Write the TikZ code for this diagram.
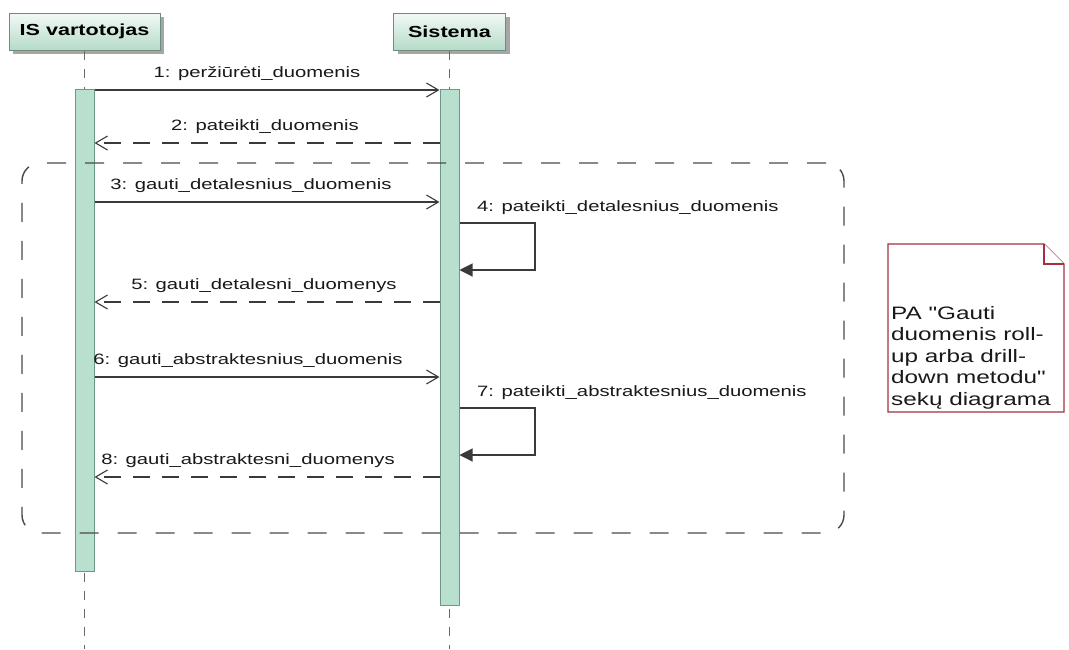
\documentclass[tikz,border=0pt]{standalone}
\usepackage{fontspec}
\newfontfamily\uifont[FakeStretch=1.35]{Liberation Sans}
\usetikzlibrary{arrows.meta,shadows}

\definecolor{actorline}{HTML}{6E8C7E}
\definecolor{actortop}{HTML}{F2F9F5}
\definecolor{actorbot}{HTML}{B6DBC9}
\definecolor{barfill}{HTML}{B9E0CF}
\definecolor{barline}{HTML}{6A9A85}
\definecolor{msgline}{HTML}{3A3A3A}
\definecolor{lifegray}{HTML}{6A6A6A}
\definecolor{framegray}{HTML}{4A4A4A}
\definecolor{notered}{HTML}{A3303F}

\tikzset{
  actor/.style={draw=actorline, line width=1pt, top color=actortop, bottom color=actorbot,
    minimum height=37pt, inner sep=0pt,
    font=\uifont\bfseries\fontsize{16}{19}\selectfont,
    drop shadow={shadow xshift=4pt, shadow yshift=-4pt, fill=black!35, opacity=1}},
  lifeline/.style={draw=lifegray, line width=1pt, dash pattern=on 9pt off 9pt},
  actbar/.style={draw=barline, fill=barfill, line width=1pt, minimum width=19pt, inner sep=0pt, anchor=north},
  callmsg/.style={draw=msgline, line width=1.1pt, -{Straight Barb[length=12pt,width=14pt,line width=1.1pt]}},
  retmsg/.style={callmsg, dash pattern=on 17pt off 12pt},
  selfmsg/.style={draw=msgline, line width=1.1pt, -{Triangle[length=13pt,width=13pt]}},
  lbl/.style={inner sep=0pt, text height=11pt, text depth=3pt,
    font=\uifont\fontsize{15}{18}\selectfont, text=black!90},
  loopframe/.style={draw=framegray, line width=1.4pt, dash pattern=on 19pt off 19pt,
    rounded corners=18pt, inner sep=0pt},
  notebox/.style={draw=notered, line width=1.2pt, fill=white, line join=miter},
  notetext/.style={inner sep=0pt, align=left, text=black!90,
    font=\uifont\fontsize{18}{21.5}\selectfont}
}

\begin{document}
\begin{tikzpicture}[x=1pt,y=-1pt]
\useasboundingbox[fill=white] (0,0) rectangle (1069,649);

% participants
\node[actor, minimum width=151pt] (user) at (84.5,31.5) {IS vartotojas};
\node[actor, minimum width=112pt] (sys) at (449.5,31.5) {Sistema};

% lifelines
\coordinate (userEnd) at (84.5,649);
\coordinate (sysEnd) at (449.5,649);
\draw[lifeline] (user.south) -- (userEnd);
\draw[lifeline] (sys.south) -- (sysEnd);

% activation bars
\node[actbar, minimum height=482pt] (ubar) at (84.5,89) {};
\node[actbar, minimum height=516pt] (sbar) at (449.5,89) {};

% combined fragment
\node[loopframe, minimum width=822pt, minimum height=370pt] (loop) at (433,348) {};

% message rows
\coordinate (y1) at (0,90);
\coordinate (y2) at (0,143);
\coordinate (y3) at (0,202);
\coordinate (y5) at (0,302);
\coordinate (y6) at (0,377);
\coordinate (y8) at (0,477);
\coordinate (s4a) at (535,223);
\coordinate (s4b) at (535,270);
\coordinate (s7a) at (535,408);
\coordinate (s7b) at (535,455);

\draw[callmsg] (ubar.east |- y1) -- node[lbl, above=9pt, xshift=-10pt] (m1) {1: peržiūrėti\_duomenis} (sbar.west |- y1);
\draw[retmsg] (sbar.west |- y2) -- node[lbl, above=9pt, xshift=-2pt] (m2) {2: pateikti\_duomenis} (ubar.east |- y2);
\draw[callmsg] (ubar.east |- y3) -- node[lbl, above=9pt, xshift=-16pt] (m3) {3: gauti\_detalesnius\_duomenis} (sbar.west |- y3);
\draw[selfmsg] (sbar.east |- s4a) -- (s4a) -- (s4b) -- (sbar.east |- s4b);
\node[lbl, anchor=west] (m4) at (477,207) {4: pateikti\_detalesnius\_duomenis};
\draw[retmsg] (sbar.west |- y5) -- node[lbl, above=9pt, xshift=-3pt] (m5) {5: gauti\_detalesni\_duomenys} (ubar.east |- y5);
\draw[callmsg] (ubar.east |- y6) -- node[lbl, above=9pt, xshift=-19pt] (m6) {6: gauti\_abstraktesnius\_duomenis} (sbar.west |- y6);
\draw[selfmsg] (sbar.east |- s7a) -- (s7a) -- (s7b) -- (sbar.east |- s7b);
\node[lbl, anchor=west] (m7) at (477,392) {7: pateikti\_abstraktesnius\_duomenis};
\draw[retmsg] (sbar.west |- y8) -- node[lbl, above=9pt, xshift=-19pt] (m8) {8: gauti\_abstraktesni\_duomenys} (ubar.east |- y8);

% note with folded corner
\draw[notebox] (888,244) -- (1044,244) -- (1064,264) -- (1064,412) -- (888,412) -- cycle;
\draw[notebox] (1044,244) -- (1044,264) -- (1064,264);
\node[notetext, anchor=north west] (note) at (891,306) {PA "Gauti\\duomenis roll-\\up arba drill-\\down metodu"\\sekų diagrama};
\end{tikzpicture}
\end{document}
